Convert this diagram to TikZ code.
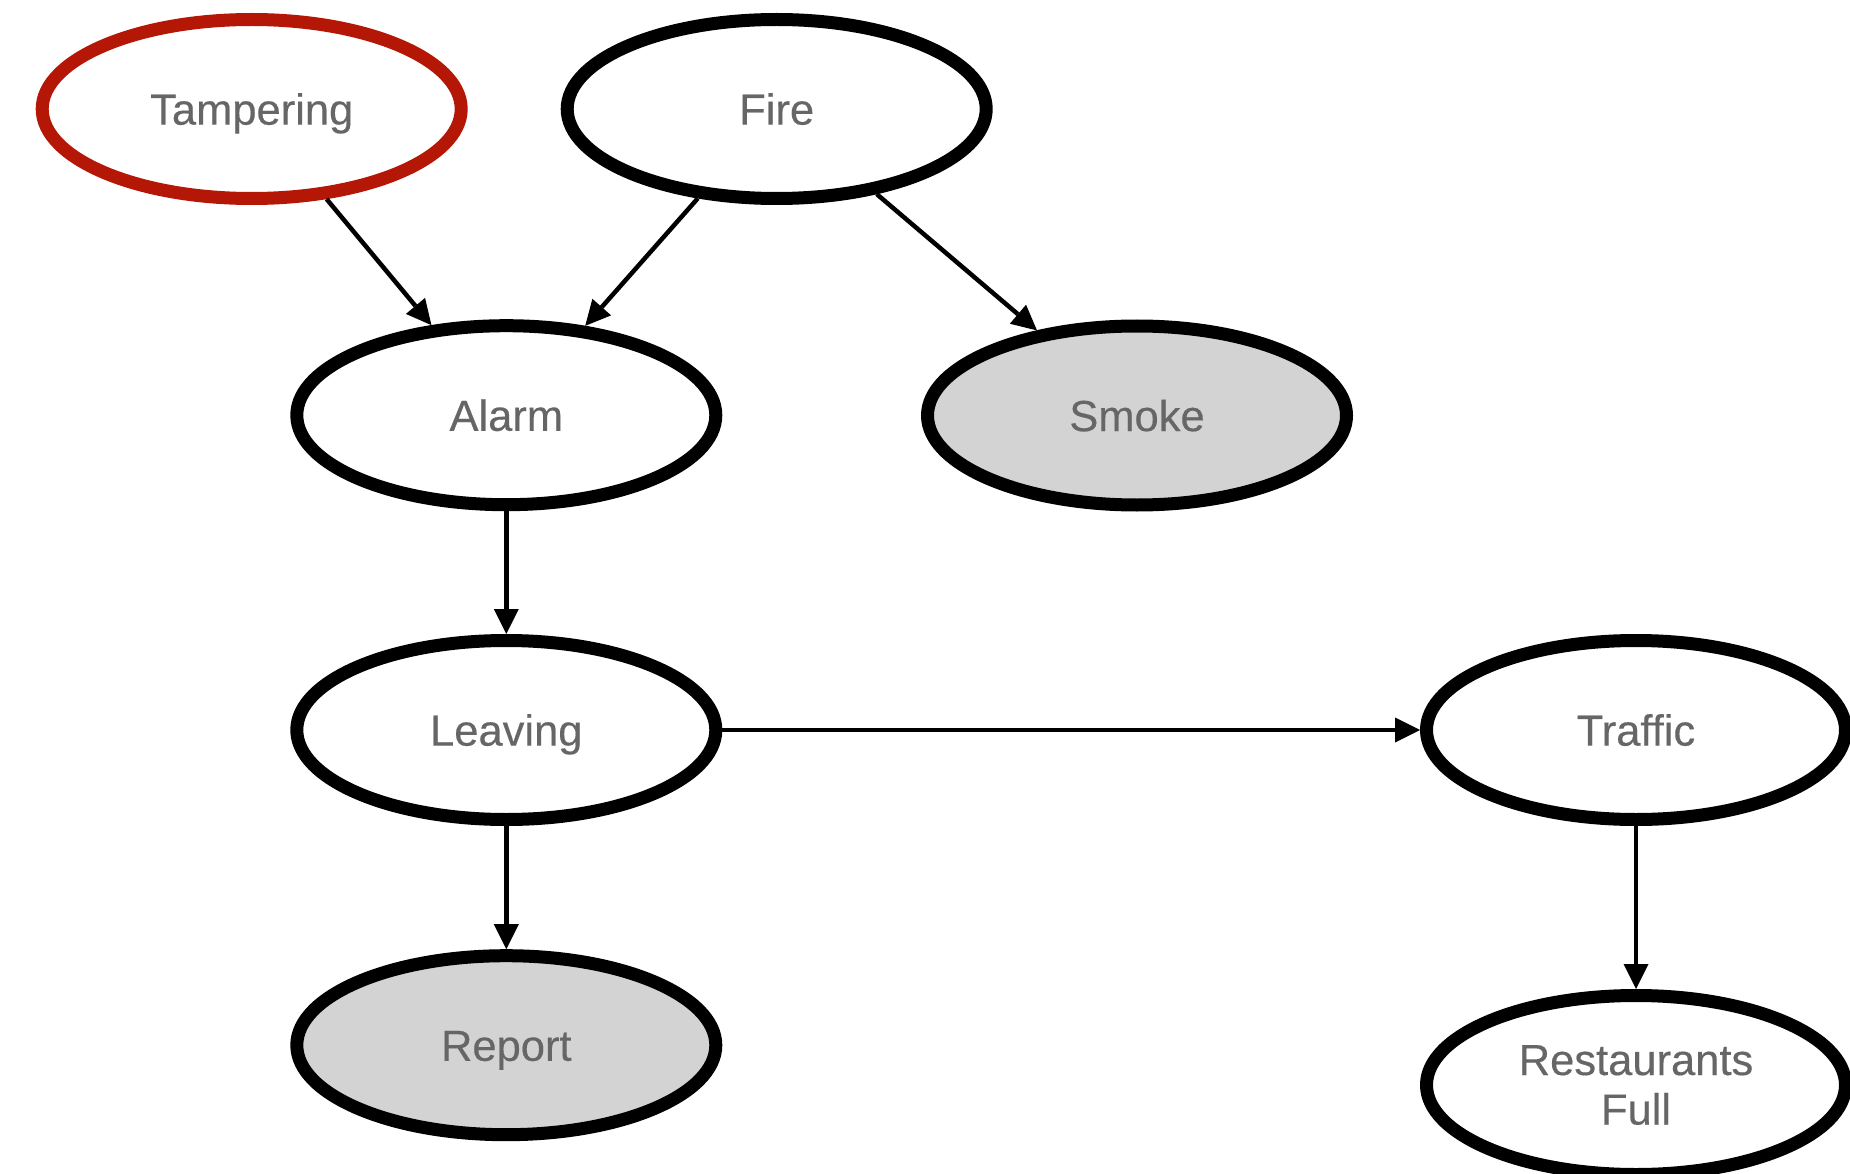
\documentclass[tikz,border=0pt]{standalone}
\usepackage{fontspec}
\setmainfont{Liberation Sans}[FakeBold=0.35]
\usetikzlibrary{shapes.geometric,arrows.meta}
\definecolor{txtgray}{RGB}{102,102,102}
\definecolor{nodered}{RGB}{180,23,5}
\definecolor{obsfill}{RGB}{211,211,211}
\tikzset{
  var/.style={ellipse, draw=black, line width=13pt, fill=white,
    minimum width=419pt, minimum height=179pt, inner sep=0pt,
    text=txtgray, font=\fontsize{43.5}{49.5}\selectfont},
  oneline/.style={text height=31.2pt, text depth=0pt},
  observed/.style={fill=obsfill},
  intervened/.style={draw=nodered},
  edge/.style={line width=4.5pt, draw=black,
    -{Triangle[length=25pt,width=25pt,line width=0pt]}}
}
\begin{document}
\begin{tikzpicture}[x=1pt,y=-1pt]
\useasboundingbox (0,0) rectangle (1850,1174);
\clip (0,0) rectangle (1850,1174);
\node[var,oneline,intervened] (tamp) at (251.7,109) {Tampering};
\node[var,oneline] (fire) at (776.7,109) {Fire};
\node[var,oneline] (alarm) at (506.3,415.2) {Alarm};
\node[var,oneline,observed] (smoke) at (1137,415.5) {Smoke};
\node[var,oneline] (leave) at (506.3,730) {Leaving};
\node[var,oneline] (traffic) at (1636,730) {Traffic};
\node[var,oneline,observed] (report) at (506.3,1045.2) {Report};
\node[var,align=center] (rest) at (1636,1085) {Restaurants\\Full};
\draw[edge] (tamp) -- (alarm);
\draw[edge] (fire) -- (alarm);
\draw[edge] (fire) -- (smoke);
\draw[edge] (alarm) -- (leave);
\draw[edge] (leave) -- (report);
\draw[edge] (leave) -- (traffic);
\draw[edge] (traffic) -- (rest);
\end{tikzpicture}
\end{document}
